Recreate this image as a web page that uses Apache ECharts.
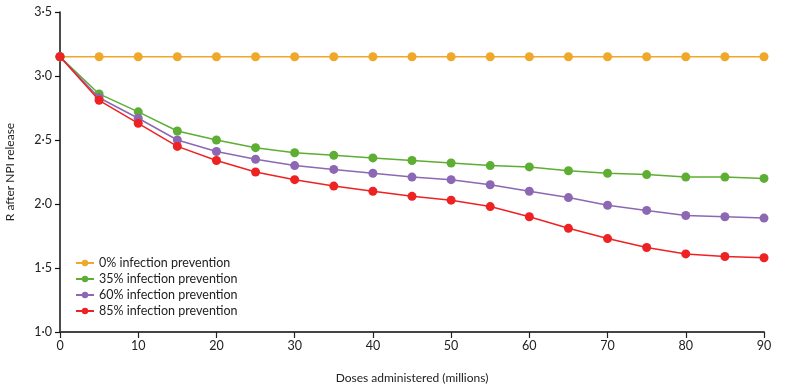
<!DOCTYPE html>
<html><head><meta charset="utf-8">
<script src="https://cdn.jsdelivr.net/npm/echarts@6/dist/echarts.min.js"></script>
<style>html,body{margin:0;padding:0;background:#fff}#c{width:801px;height:386px}</style>
</head><body><div id="c"></div>
<script>
const doses = [0,5,10,15,20,25,30,35,40,45,50,55,60,65,70,75,80,85,90];
const p0  = [3.15,3.15,3.15,3.15,3.15,3.15,3.15,3.15,3.15,3.15,3.15,3.15,3.15,3.15,3.15,3.15,3.15,3.15,3.15];
const p35 = [3.15,2.86,2.72,2.57,2.50,2.44,2.40,2.38,2.36,2.34,2.32,2.30,2.29,2.26,2.24,2.23,2.21,2.21,2.20];
const p60 = [3.15,2.83,2.67,2.50,2.41,2.35,2.30,2.27,2.24,2.21,2.19,2.15,2.10,2.05,1.99,1.95,1.91,1.90,1.89];
const p85 = [3.15,2.81,2.63,2.45,2.34,2.25,2.19,2.14,2.10,2.06,2.03,1.98,1.90,1.81,1.73,1.66,1.61,1.59,1.58];
const names = ['0% infection prevention','35% infection prevention','60% infection prevention','85% infection prevention'];
const colors = ['#EFA829','#5DAE32','#8C68B4','#EE2222'];
const font = 'Lato';
function mk(i, vals){
  return {name:names[i], type:'line', data:doses.map((d,k)=>[d,vals[k]]),
    symbol:'circle', symbolSize:9, color:colors[i],
    lineStyle:{width:1.5,color:colors[i]}, itemStyle:{color:colors[i]},
    z: 10+i, animation:false};
}
const chart = echarts.init(document.getElementById('c'));
chart.setOption({
  animation:false,
  grid:{left:60,right:37,top:12,bottom:54,containLabel:false,outerBoundsMode:'none'},
  legend:{orient:'vertical',left:75,top:256,padding:0,itemWidth:18,itemHeight:8,itemGap:2,
    textStyle:{fontFamily:font,fontSize:12.5,color:'#222',lineHeight:14},data:names},
  xAxis:{type:'value',min:0,max:90,interval:10,
    name:'Doses administered (millions)',nameLocation:'middle',nameGap:40,
    nameTextStyle:{fontFamily:font,fontSize:12,color:'#222'},
    axisLine:{lineStyle:{color:'#444',width:1.8}},
    axisTick:{show:true,length:6,lineStyle:{color:'#222',width:1.2}},
    axisLabel:{fontFamily:font,fontSize:12.5,color:'#222',margin:7},
    splitLine:{show:false}},
  yAxis:{type:'value',min:1,max:3.5,interval:0.5,
    name:'R after NPI release',nameLocation:'middle',nameGap:44,nameRotate:90,
    nameTextStyle:{fontFamily:font,fontSize:12,color:'#222'},
    axisLine:{show:true,lineStyle:{color:'#111',width:1.5}},
    axisTick:{show:true,length:5,lineStyle:{color:'#111',width:1.2}},
    axisLabel:{fontFamily:font,fontSize:12.5,color:'#222',margin:8,
      formatter:v=>v.toFixed(1).replace('.', '·')},
    splitLine:{show:false}},
  series:[mk(0,p0),mk(1,p35),mk(2,p60),mk(3,p85)]
});
</script></body></html>
